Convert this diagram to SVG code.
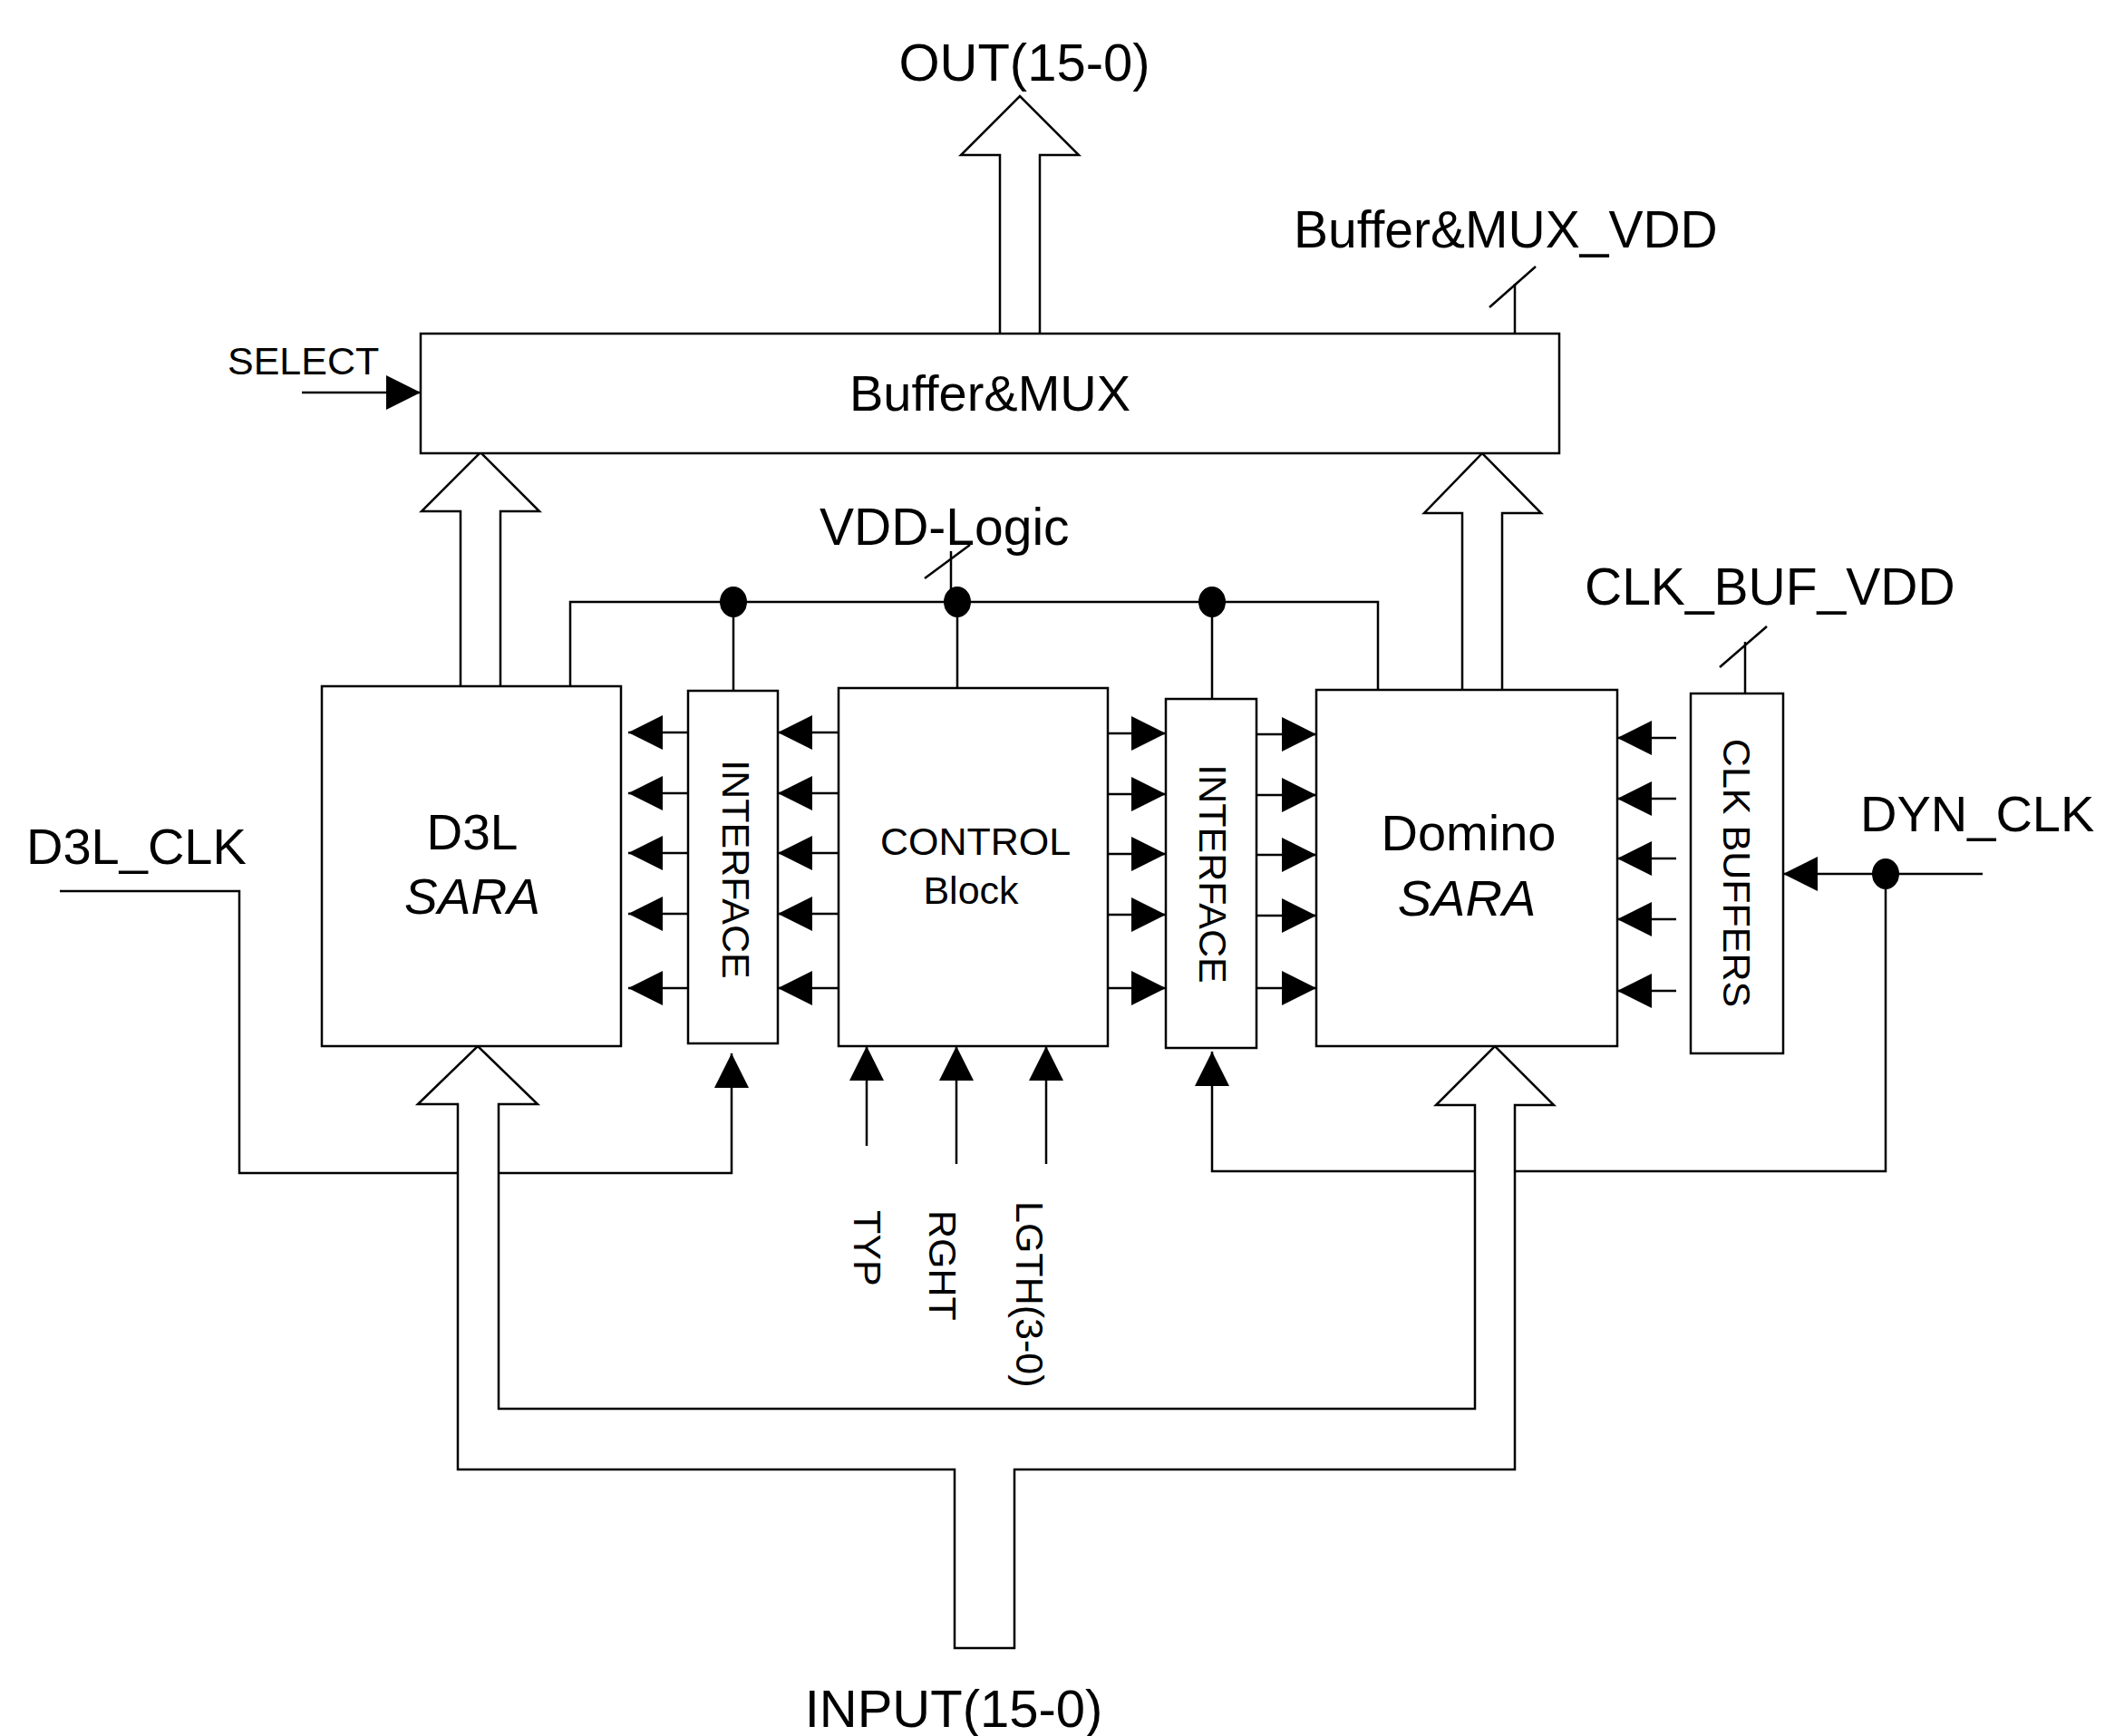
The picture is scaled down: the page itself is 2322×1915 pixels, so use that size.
<svg xmlns="http://www.w3.org/2000/svg" width="2322" height="1915" viewBox="0 0 2322 1915">
<style>
.ln{fill:none;stroke:#000;stroke-width:2.5}
.bx{fill:#fff;stroke:#000;stroke-width:2.5}
.bus{fill:#fff;stroke:#000;stroke-width:2.5;stroke-linejoin:miter}
.t{font-family:"Liberation Sans",Arial,sans-serif;fill:#000}
.dot{fill:#000}
</style>
<defs>
<marker id="ah" viewBox="0 0 38 38" markerWidth="38" markerHeight="38" refX="38" refY="19" orient="auto" markerUnits="userSpaceOnUse">
<path d="M0,0 L38,19 L0,38 Z" fill="#000"/>
</marker>
</defs>

<g id="connectors">
<!-- VDD marks -->
<line class="ln" x1="1671" y1="313" x2="1671" y2="368"/>
<line class="ln" x1="1643" y1="339" x2="1694" y2="294"/>
<line class="ln" x1="1049" y1="608" x2="1049" y2="664"/>
<line class="ln" x1="1020" y1="638" x2="1070" y2="601"/>
<line class="ln" x1="1925" y1="708" x2="1925" y2="765"/>
<line class="ln" x1="1897" y1="736" x2="1949" y2="691"/>
<!-- VDD-Logic rail -->
<polyline class="ln" points="629,757 629,664 1520,664 1520,761"/>
<line class="ln" x1="809" y1="664" x2="809" y2="762"/>
<line class="ln" x1="1056" y1="664" x2="1056" y2="769"/>
<line class="ln" x1="1337" y1="664" x2="1337" y2="771"/>
<ellipse class="dot" cx="809" cy="664" rx="15" ry="17"/>
<ellipse class="dot" cx="1056" cy="664" rx="15" ry="17"/>
<ellipse class="dot" cx="1337" cy="664" rx="15" ry="17"/>
<!-- SELECT -->
<line class="ln" x1="333" y1="433" x2="464" y2="433" marker-end="url(#ah)"/>
<!-- Interface L -> D3L -->
<line class="ln" x1="759" y1="808" x2="693" y2="808" marker-end="url(#ah)"/>
<line class="ln" x1="759" y1="875" x2="693" y2="875" marker-end="url(#ah)"/>
<line class="ln" x1="759" y1="941" x2="693" y2="941" marker-end="url(#ah)"/>
<line class="ln" x1="759" y1="1008" x2="693" y2="1008" marker-end="url(#ah)"/>
<line class="ln" x1="759" y1="1090" x2="693" y2="1090" marker-end="url(#ah)"/>
<!-- Control -> Interface L -->
<line class="ln" x1="925" y1="808" x2="858" y2="808" marker-end="url(#ah)"/>
<line class="ln" x1="925" y1="875" x2="858" y2="875" marker-end="url(#ah)"/>
<line class="ln" x1="925" y1="941" x2="858" y2="941" marker-end="url(#ah)"/>
<line class="ln" x1="925" y1="1008" x2="858" y2="1008" marker-end="url(#ah)"/>
<line class="ln" x1="925" y1="1090" x2="858" y2="1090" marker-end="url(#ah)"/>
<!-- Control -> Interface R -->
<line class="ln" x1="1222" y1="809" x2="1286" y2="809" marker-end="url(#ah)"/>
<line class="ln" x1="1222" y1="876" x2="1286" y2="876" marker-end="url(#ah)"/>
<line class="ln" x1="1222" y1="942" x2="1286" y2="942" marker-end="url(#ah)"/>
<line class="ln" x1="1222" y1="1009" x2="1286" y2="1009" marker-end="url(#ah)"/>
<line class="ln" x1="1222" y1="1090" x2="1286" y2="1090" marker-end="url(#ah)"/>
<!-- Interface R -> Domino -->
<line class="ln" x1="1386" y1="810" x2="1452" y2="810" marker-end="url(#ah)"/>
<line class="ln" x1="1386" y1="877" x2="1452" y2="877" marker-end="url(#ah)"/>
<line class="ln" x1="1386" y1="943" x2="1452" y2="943" marker-end="url(#ah)"/>
<line class="ln" x1="1386" y1="1010" x2="1452" y2="1010" marker-end="url(#ah)"/>
<line class="ln" x1="1386" y1="1090" x2="1452" y2="1090" marker-end="url(#ah)"/>
<!-- CLK buffers -> Domino -->
<line class="ln" x1="1849" y1="814" x2="1784" y2="814" marker-end="url(#ah)"/>
<line class="ln" x1="1849" y1="881" x2="1784" y2="881" marker-end="url(#ah)"/>
<line class="ln" x1="1849" y1="947" x2="1784" y2="947" marker-end="url(#ah)"/>
<line class="ln" x1="1849" y1="1014" x2="1784" y2="1014" marker-end="url(#ah)"/>
<line class="ln" x1="1849" y1="1093" x2="1784" y2="1093" marker-end="url(#ah)"/>
<!-- D3L_CLK -->
<polyline class="ln" points="66,983 264,983 264,1294 807,1294 807,1162" marker-end="url(#ah)"/>
<!-- DYN_CLK -->
<line class="ln" x1="2187" y1="964" x2="1967" y2="964" marker-end="url(#ah)"/>
<polyline class="ln" points="2080,964 2080,1292 1337,1292 1337,1160" marker-end="url(#ah)"/>
<ellipse class="dot" cx="2080" cy="964" rx="15" ry="17"/>
<!-- Control inputs -->
<line class="ln" x1="956" y1="1264" x2="956" y2="1154" marker-end="url(#ah)"/>
<line class="ln" x1="1055" y1="1284" x2="1055" y2="1154" marker-end="url(#ah)"/>
<line class="ln" x1="1154" y1="1284" x2="1154" y2="1154" marker-end="url(#ah)"/>
<!-- Buses -->
<polygon class="bus" points="461,1218 527,1154 593,1218 550,1218 550,1554 1627,1554 1627,1219 1584,1219 1649,1154 1714,1219 1671,1219 1671,1621 1119,1621 1119,1818 1053,1818 1053,1621 505,1621 505,1218"/>
<polyline class="bus" points="508,757 508,564 465,564 530,499 595,564 552,564 552,757"/>
<polyline class="bus" points="1613,761 1613,566 1571,566 1635,500 1700,566 1657,566 1657,761"/>
<polyline class="bus" points="1103,368 1103,171 1060,171 1125,106 1190,171 1147,171 1147,368"/>
</g>

<g id="buffer-mux">
<rect class="bx" x="464" y="368" width="1256" height="132"/>
<text class="t" x="1092" y="453" font-size="56" text-anchor="middle">Buffer&amp;MUX</text>
</g>
<g id="d3l-sara">
<rect class="bx" x="355" y="757" width="330" height="397"/>
<text class="t" x="521" y="937" font-size="55" text-anchor="middle">D3L</text>
<text class="t" x="521" y="1008" font-size="55" font-style="italic" text-anchor="middle">SARA</text>
</g>
<g id="interface-left">
<rect class="bx" x="759" y="762" width="99" height="389"/>
<text class="t" transform="translate(812,959) rotate(90)" font-size="43" text-anchor="middle" dominant-baseline="central">INTERFACE</text>
</g>
<g id="control-block">
<rect class="bx" x="925" y="759" width="297" height="395"/>
<text class="t" x="1076" y="943" font-size="43" text-anchor="middle">CONTROL</text>
<text class="t" x="1071" y="997" font-size="43" text-anchor="middle">Block</text>
</g>
<g id="interface-right">
<rect class="bx" x="1286" y="771" width="100" height="385"/>
<text class="t" transform="translate(1338,964) rotate(90)" font-size="43" text-anchor="middle" dominant-baseline="central">INTERFACE</text>
</g>
<g id="domino-sara">
<rect class="bx" x="1452" y="761" width="332" height="393"/>
<text class="t" x="1620" y="938" font-size="56" text-anchor="middle">Domino</text>
<text class="t" x="1618" y="1010" font-size="56" font-style="italic" text-anchor="middle">SARA</text>
</g>
<g id="clk-buffers">
<rect class="bx" x="1865" y="765" width="102" height="397"/>
<text class="t" transform="translate(1916,963) rotate(90)" font-size="43" text-anchor="middle" dominant-baseline="central">CLK BUFFERS</text>
</g>

<g id="labels">
<text class="t" x="1130" y="89" font-size="58" text-anchor="middle">OUT(15-0)</text>
<text class="t" x="1427" y="273" font-size="57">Buffer&amp;MUX_VDD</text>
<text class="t" x="251" y="413" font-size="43">SELECT</text>
<text class="t" x="904" y="601" font-size="57">VDD-Logic</text>
<text class="t" x="1748" y="667" font-size="57">CLK_BUF_VDD</text>
<text class="t" x="29" y="953" font-size="56">D3L_CLK</text>
<text class="t" x="2052" y="917" font-size="56">DYN_CLK</text>
<text class="t" transform="translate(957,1335) rotate(90)" font-size="43" dominant-baseline="central">TYP</text>
<text class="t" transform="translate(1040,1335) rotate(90)" font-size="43" dominant-baseline="central">RGHT</text>
<text class="t" transform="translate(1136,1325) rotate(90)" font-size="43" dominant-baseline="central">LGTH(3-0)</text>
<text class="t" x="1052" y="1905" font-size="58" text-anchor="middle">INPUT(15-0)</text>
</g>
</svg>
